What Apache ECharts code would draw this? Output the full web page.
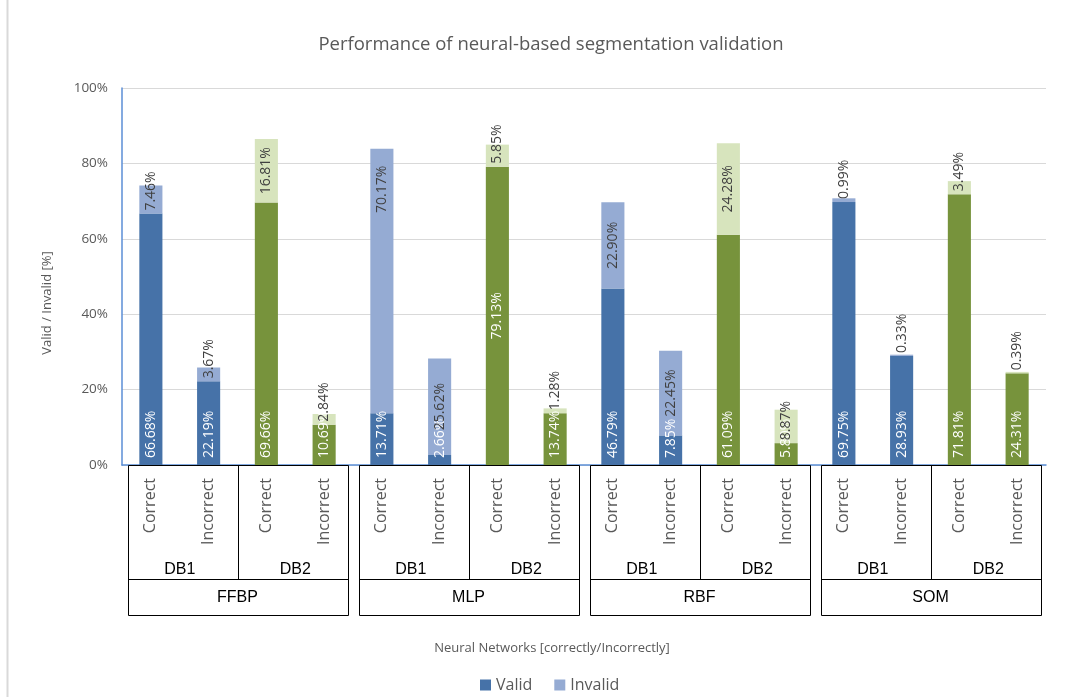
<!DOCTYPE html>
<html>
<head>
<meta charset="utf-8">
<script src="https://cdn.jsdelivr.net/npm/echarts@6/dist/echarts.min.js"></script>
<style>
html,body{margin:0;padding:0;background:#fff;}
#chart{width:1065px;height:697px;}
</style>
</head>
<body>
<div id="chart"></div>
<script>
const categories = ['Correct','Incorrect','Correct','Incorrect','Correct','Incorrect','Correct','Incorrect','Correct','Incorrect','Correct','Incorrect','Correct','Incorrect','Correct','Incorrect'];
const dbLabels = ['DB1','DB2','DB1','DB2','DB1','DB2','DB1','DB2'];
const networks = ['FFBP','MLP','RBF','SOM'];
const validValues = [66.68,22.19,69.66,10.69,13.71,2.66,79.13,13.74,46.79,7.85,61.09,5.80,69.75,28.93,71.81,24.31];
const invalidValues = [7.46,3.67,16.81,2.84,70.17,25.62,5.85,1.28,22.90,22.45,24.28,8.87,0.99,0.33,3.49,0.39];
const yTickValues = [0,20,40,60,80,100];

const FONT = 'Open Sans';
const C_VALID_DB1 = '#4672a8', C_INVALID_DB1 = '#95abd3';
const C_VALID_DB2 = '#77933c', C_INVALID_DB2 = '#d7e4bd';
const isDB2 = i => Math.floor(i / 2) % 2 === 1;

function validLabel(i) {
  const base = {show:true, rotate:90, color:'#ffffff', fontSize:14, fontFamily:FONT,
    formatter: p => p.value.toFixed(2) + '%'};
  if (i === 6) return Object.assign(base, {position:'inside', align:'center', verticalAlign:'middle'});
  return Object.assign(base, {position:'insideBottom', distance:7, align:'left', verticalAlign:'middle'});
}
function invalidLabel(i, v) {
  const base = {show:true, rotate:90, color:'#404040', fontSize:14, fontFamily:FONT,
    formatter: p => p.value.toFixed(2) + '%'};
  if (i === 4) return Object.assign(base, {position:'insideTop', distance:17, align:'right', verticalAlign:'middle'});
  if (v >= 10) return Object.assign(base, {position:'inside', align:'center', verticalAlign:'middle'});
  return Object.assign(base, {position:'insideBottom', distance:3, align:'left', verticalAlign:'middle'});
}

const validData = validValues.map((v, i) => ({value: v,
  itemStyle: {color: isDB2(i) ? C_VALID_DB2 : C_VALID_DB1}, label: validLabel(i)}));
const invalidData = invalidValues.map((v, i) => ({value: v,
  itemStyle: {color: isDB2(i) ? C_INVALID_DB2 : C_INVALID_DB1}, label: invalidLabel(i, v)}));

const chart = echarts.init(document.getElementById('chart'));
const option = {
  animation: false,
  backgroundColor: '#ffffff',
  textStyle: {fontFamily: FONT},
  title: [
    {text: 'Performance of neural-based segmentation validation', left: 546, top: 30, textAlign: 'center',
     textStyle: {fontSize: 18.5, fontWeight: 'normal', color: '#595959', fontFamily: FONT}},
    {text: 'Neural Networks [correctly/Incorrectly]', left: 547, top: 637, textAlign: 'center',
     textStyle: {fontSize: 13, fontWeight: 'normal', color: '#595959', fontFamily: FONT}}
  ],
  legend: {
    data: ['Valid', 'Invalid'], left: 475, top: 672, itemWidth: 11, itemHeight: 11, itemGap: 22,
    icon: 'rect', textStyle: {fontSize: 16, color: '#595959', fontFamily: FONT}
  },
  grid: {left: 122, right: 19, top: 88, bottom: 232, containLabel: false},
  xAxis: [
    {type: 'category', data: categories, position: 'bottom',
     axisLine: {show: true, lineStyle: {color: '#5b8ed6', width: 1.5}},
     axisTick: {show: false},
     axisLabel: {rotate: 90, margin: 13, fontSize: 16, color: '#595959', fontFamily: FONT, interval: 0}},
    {type: 'category', data: dbLabels, position: 'bottom',
     axisLine: {show: false}, axisTick: {show: false},
     axisLabel: {margin: 97, fontSize: 16, color: '#000000', fontFamily: 'Liberation Sans', interval: 0}},
    {type: 'category', data: networks, position: 'bottom',
     axisLine: {show: false}, axisTick: {show: false},
     axisLabel: {margin: 125, fontSize: 16, color: '#000000', fontFamily: 'Liberation Sans', interval: 0}}
  ],
  yAxis: {
    type: 'value', min: 0, max: 100, interval: 20,
    axisLine: {show: true, lineStyle: {color: '#5b8ed6', width: 1.5}},
    axisTick: {show: false},
    splitLine: {show: true, lineStyle: {color: '#d9d9d9', width: 1}},
    axisLabel: {margin: 14, fontSize: 13.5, color: '#595959', fontFamily: FONT,
      formatter: v => yTickValues.indexOf(v) >= 0 ? v + '%' : ''}
  },
  series: [
    {name: 'Valid', type: 'bar', stack: 'total', barWidth: '40%', data: validData,
     itemStyle: {color: C_VALID_DB1}},
    {name: 'Invalid', type: 'bar', stack: 'total', barWidth: '40%', data: invalidData,
     itemStyle: {color: C_INVALID_DB1}}
  ]
};
chart.setOption(option);

// Table boxes under the axis, computed from the axis scale
const x0 = chart.convertToPixel({xAxisIndex: 0}, 0);
const band = chart.convertToPixel({xAxisIndex: 0}, 1) - x0;
const yTop = chart.convertToPixel({yAxisIndex: 0}, 0) + 0.5;
const yMid = yTop + 114, yBot = yTop + 150;
const inset = 5.5;
const graphics = [];
const ls = {stroke: '#000000', lineWidth: 1};
for (let g = 0; g < networks.length; g++) {
  const gl = x0 - band / 2 + g * 4 * band;
  const l = Math.round(gl + inset) + 0.5, r = Math.round(gl + 4 * band - inset) + 0.5;
  const m = Math.round(gl + 2 * band) + 0.5;
  graphics.push({type: 'rect', shape: {x: l, y: yTop, width: r - l, height: yBot - yTop}, style: {fill: null, stroke: '#000', lineWidth: 1}, z: 10});
  graphics.push({type: 'line', shape: {x1: l, y1: yMid, x2: r, y2: yMid}, style: ls, z: 10});
  graphics.push({type: 'line', shape: {x1: m, y1: yTop, x2: m, y2: yMid}, style: ls, z: 10});
}
graphics.push({type: 'line', shape: {x1: 7.5, y1: 0, x2: 7.5, y2: 697}, style: {stroke: '#d9d9d9', lineWidth: 2}});
graphics.push({type: 'text', x: 47, y: 303, rotation: Math.PI / 2,
  style: {text: 'Valid / Invalid [%]', fill: '#595959', fontSize: 13, fontFamily: FONT, align: 'center', verticalAlign: 'middle'}});
chart.setOption({graphic: graphics});
</script>
</body>
</html>
